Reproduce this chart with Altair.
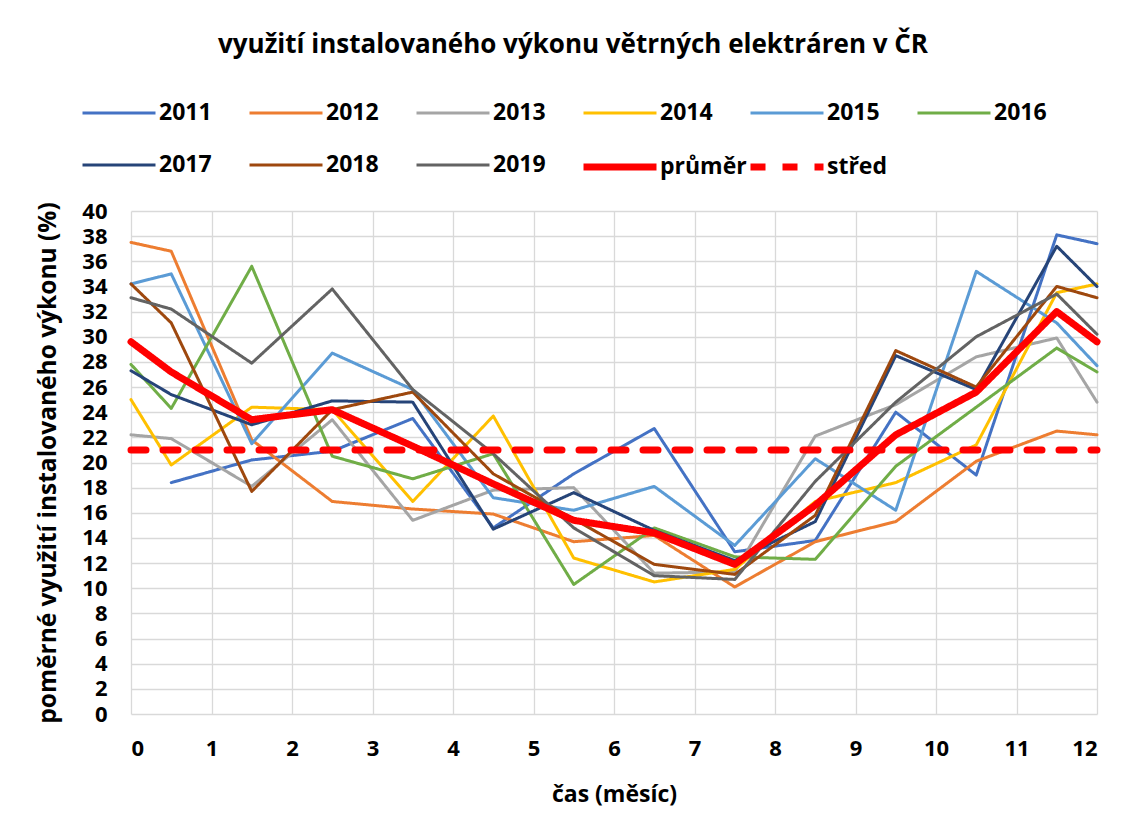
import altair as alt
import pandas as pd

x_pos = [0, 0.5, 1.5, 2.5, 3.5, 4.5, 5.5, 6.5, 7.5, 8.5, 9.5, 10.5, 11.5, 12]

y2011 = [None, 18.4, 20.2, 20.9, 23.5, 14.8, 19.1, 22.7, 12.9, 13.8, 24.0, 19.0, 38.1, 37.4]
y2012 = [37.5, 36.8, 21.8, 16.9, 16.3, 15.9, 13.7, 14.2, 10.1, 13.7, 15.3, 20.1, 22.5, 22.2]
y2013 = [22.2, 21.9, 18.1, 23.4, 15.4, 17.8, 18.0, 11.2, 11.3, 22.1, 24.6, 28.4, 29.9, 24.8]
y2014 = [25.0, 19.8, 24.4, 24.2, 16.9, 23.7, 12.4, 10.5, 11.5, 16.9, 18.4, 21.4, 33.5, 34.2]
y2015 = [34.2, 35.0, 21.5, 28.7, 25.8, 17.2, 16.2, 18.1, 13.4, 20.3, 16.2, 35.2, 31.1, 27.7]
y2016 = [27.8, 24.3, 35.6, 20.5, 18.7, 20.7, 10.3, 14.8, 12.5, 12.3, 19.7, 24.4, 29.1, 27.2]
y2017 = [27.3, 25.4, 23.0, 24.9, 24.8, 14.7, 17.6, 14.6, 12.2, 15.3, 28.5, 25.8, 37.2, 34.0]
y2018 = [34.2, 31.1, 17.7, 24.2, 25.6, 19.1, 15.5, 11.9, 11.1, 15.8, 28.9, 26.0, 34.0, 33.1]
y2019 = [33.1, 32.2, 27.9, 33.8, 25.8, 20.7, 14.8, 11.0, 10.7, 18.5, 24.8, 30.0, 33.4, 30.2]
prumer = [29.6, 27.2, 23.4, 24.2, 21.3, 18.3, 15.4, 14.4, 11.9, 16.6, 22.2, 25.6, 32.0, 29.6]
stred_x = [0, 12]
stred = [21.0, 21.0]

series_names = ["2011", "2012", "2013", "2014", "2015", "2016",
                "2017", "2018", "2019", "průměr", "střed"]
colors = ["#4472C4", "#ED7D31", "#A5A5A5", "#FFC000", "#5B9BD5", "#70AD47",
          "#264478", "#9E480E", "#636363", "#FF0000", "#FF0000"]
widths = [3, 3, 3, 3, 3, 3, 3, 3, 3, 7, 7]
dashes = [[1, 0]] * 10 + [[15, 17]]

rows = []
for name, vals in zip(series_names[:10],
                      [y2011, y2012, y2013, y2014, y2015, y2016, y2017, y2018, y2019, prumer]):
    for i, (xv, yv) in enumerate(zip(x_pos, vals)):
        if yv is not None:
            rows.append({"x": xv, "y": yv, "series": name, "order": i})
for i, (xv, yv) in enumerate(zip(stred_x, stred)):
    rows.append({"x": xv, "y": yv, "series": "střed", "order": i})
df = pd.DataFrame(rows)

FONT = "Open Sans"

legend = alt.Legend(
    title=None, orient="none", legendX=-52, legendY=-138, columns=6,
    direction="horizontal",
    symbolType="stroke", symbolSize=5329, labelFont=FONT, labelFontWeight="bold",
    labelFontSize=23, labelColor="#000000", labelOffset=0, columnPadding=-12,
    rowPadding=-7, gridAlign="all", padding=0, labelLimit=200,
)

chart = alt.Chart(df).mark_line(strokeCap="round", strokeJoin="round").encode(
    x=alt.X("x:Q", scale=alt.Scale(domain=[0, 12], nice=False),
            axis=alt.Axis(title="čas (měsíc)", values=list(range(0, 13)), format="d")),
    y=alt.Y("y:Q", scale=alt.Scale(domain=[0, 40], nice=False),
            axis=alt.Axis(title="poměrné využití instalovaného výkonu (%)",
                          values=list(range(0, 41, 2)), format="d")),
    color=alt.Color("series:N", scale=alt.Scale(domain=series_names, range=colors),
                    legend=legend, sort=series_names),
    strokeDash=alt.StrokeDash("series:N", scale=alt.Scale(domain=series_names, range=dashes),
                              sort=series_names, legend=legend),
    strokeWidth=alt.StrokeWidth("series:N",
                                scale=alt.Scale(type="ordinal", domain=series_names, range=widths),
                                sort=series_names, legend=legend),
    detail="series:N",
    order="order:Q",
).properties(
    width=966, height=503,
    title=alt.TitleParams("využití instalovaného výkonu větrných elektráren v ČR",
                          font=FONT, fontSize=26, fontWeight="bold", color="#000000",
                          anchor="middle", dx=-41, offset=15),
    autosize=alt.AutoSizeParams(type="none"),
    padding={"left": 123, "top": 203, "right": 26, "bottom": 110},
).configure_view(stroke=None).configure_axis(
    grid=True, gridColor="#D9D9D9", gridWidth=1.3, domain=False, ticks=False,
    labelFont=FONT, labelFontWeight="bold", labelFontSize=22, labelColor="#000000",
    titleFont=FONT, titleFontWeight="bold", titleColor="#000000",
).configure_axisX(labelPadding=24, titlePadding=24, titleFontSize=23).configure_axisY(
    labelPadding=24, titlePadding=21, titleFontSize=24.5
)

chart.save("out.html", embed_options={"renderer": "svg", "actions": False})
